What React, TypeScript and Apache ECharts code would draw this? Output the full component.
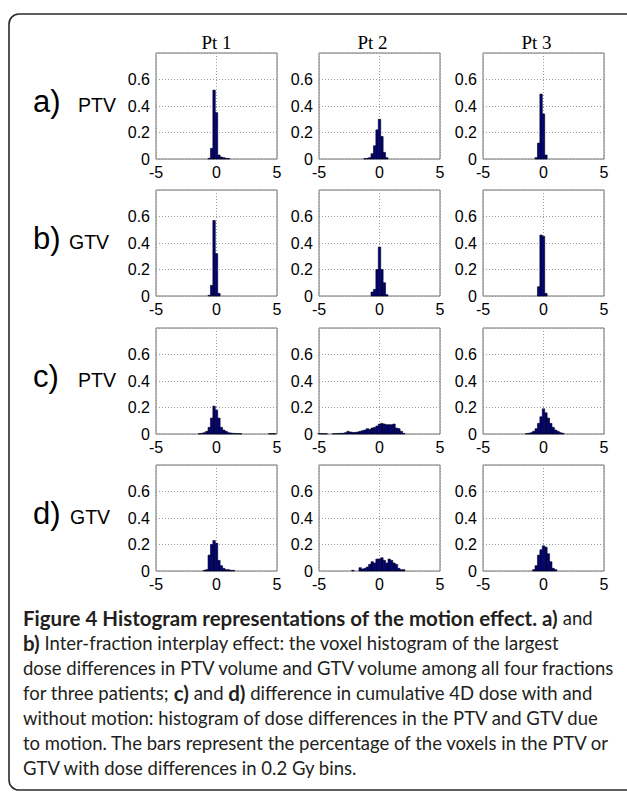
import React, { useEffect, useRef } from 'react';
import * as echarts from 'echarts';

const patients = ['Pt 1', 'Pt 2', 'Pt 3'];
const rowLetters = ['a)', 'b)', 'c)', 'd)'];
const rowVolumes = ['PTV', 'GTV', 'PTV', 'GTV'];
const yTickLabels = [0, 0.2, 0.4, 0.6];

// [bin centre (Gy), fraction of voxels]
const a1 = [[-0.6, 0.005], [-0.4, 0.08], [-0.2, 0.52], [0, 0.35], [0.2, 0.03], [0.4, 0.015], [0.6, 0.01], [0.8, 0.005], [1.0, 0.004]];
const a2 = [[-1.2, 0.003], [-1.0, 0.005], [-0.8, 0.01], [-0.6, 0.04], [-0.4, 0.1], [-0.2, 0.22], [0, 0.3], [0.2, 0.17], [0.4, 0.05], [0.6, 0.01]];
const a3 = [[-0.6, 0.01], [-0.4, 0.12], [-0.2, 0.49], [0, 0.34], [0.2, 0.03]];
const b1 = [[-0.6, 0.005], [-0.4, 0.08], [-0.2, 0.57], [0, 0.32], [0.2, 0.02]];
const b2 = [[-0.6, 0.03], [-0.4, 0.05], [-0.2, 0.2], [0, 0.37], [0.2, 0.2], [0.4, 0.1], [0.6, 0.01]];
const b3 = [[-0.4, 0.07], [-0.2, 0.46], [0, 0.45], [0.2, 0.02]];
const c1 = [[-1.4, 0.003], [-1.2, 0.005], [-1.0, 0.01], [-0.8, 0.02], [-0.6, 0.05], [-0.4, 0.12], [-0.2, 0.21], [0, 0.18], [0.2, 0.12], [0.4, 0.05], [0.6, 0.03], [0.8, 0.02], [1.0, 0.01], [1.2, 0.007], [1.4, 0.005], [1.6, 0.004], [1.8, 0.003], [2.0, 0.002], [4.4, 0.003], [4.6, 0.003], [4.8, 0.003]];
const c2 = [[-5.0, 0.003], [-4.8, 0.003], [-4.6, 0.002], [-4.4, 0.002], [-3.8, 0.002], [-3.6, 0.003], [-3.4, 0.004], [-3.2, 0.005], [-3.0, 0.005], [-2.8, 0.01], [-2.6, 0.02], [-2.4, 0.015], [-2.2, 0.012], [-2.0, 0.012], [-1.8, 0.015], [-1.6, 0.02], [-1.4, 0.025], [-1.2, 0.03], [-1.0, 0.04], [-0.8, 0.035], [-0.6, 0.045], [-0.4, 0.05], [-0.2, 0.06], [0, 0.075], [0.2, 0.08], [0.4, 0.075], [0.6, 0.07], [0.8, 0.07], [1.0, 0.07], [1.2, 0.075], [1.4, 0.045], [1.6, 0.04], [1.8, 0.02], [2.0, 0.005]];
const c3 = [[-1.4, 0.003], [-1.2, 0.005], [-1.0, 0.01], [-0.8, 0.02], [-0.6, 0.04], [-0.4, 0.08], [-0.2, 0.13], [0, 0.19], [0.2, 0.16], [0.4, 0.12], [0.6, 0.08], [0.8, 0.05], [1.0, 0.03], [1.2, 0.02], [1.4, 0.01], [1.6, 0.005]];
const d1 = [[-1.0, 0.005], [-0.8, 0.01], [-0.6, 0.12], [-0.4, 0.2], [-0.2, 0.23], [0, 0.21], [0.2, 0.08], [0.4, 0.04], [0.6, 0.02], [0.8, 0.01], [1.0, 0.01], [1.2, 0.005], [1.4, 0.005]];
const d2 = [[-2.2, 0.005], [-1.6, 0.025], [-1.4, 0.015], [-1.2, 0.02], [-1.0, 0.03], [-0.8, 0.05], [-0.6, 0.07], [-0.4, 0.06], [-0.2, 0.09], [0, 0.09], [0.2, 0.1], [0.4, 0.08], [0.6, 0.06], [0.8, 0.09], [1.0, 0.08], [1.2, 0.06], [1.4, 0.05], [1.6, 0.02], [1.8, 0.01], [2.0, 0.01]];
const d3 = [[-0.8, 0.01], [-0.6, 0.04], [-0.4, 0.12], [-0.2, 0.16], [0, 0.19], [0.2, 0.18], [0.4, 0.13], [0.6, 0.07], [0.8, 0.02], [1.0, 0.01]];

const panels = [a1, a2, a3, b1, b2, b3, c1, c2, c3, d1, d2, d3];
const binWidth = 0.2;

const captionLines = [
  '{b|Figure 4 Histogram representations of the motion effect. a)} and',
  '{b|b)} Inter-fraction interplay effect: the voxel histogram of the largest',
  'dose differences in PTV volume and GTV volume among all four fractions',
  'for three patients; {b|c)} and {b|d)} difference in cumulative 4D dose with and',
  'without motion: histogram of dose differences in the PTV and GTV due',
  'to motion. The bars represent the percentage of the voxels in the PTV or',
  'GTV with dose differences in 0.2 Gy bins.',
];

const colLeft = [156, 319, 483];
const colWidth = 121;
const rowTop = [53, 190, 328, 465];
const rowHeight = 106;
const volumeLeft = [78, 69, 78, 70];

export default function App() {
  const ref = useRef<HTMLDivElement>(null);
  useEffect(() => {
    if (!ref.current) return;
    const chart = echarts.init(ref.current, null, { renderer: 'svg' });
    const grids: any[] = [];
    const xAxes: any[] = [];
    const yAxes: any[] = [];
    const series: any[] = [];
    panels.forEach((data, i) => {
      const r = Math.floor(i / 3);
      const c = i % 3;
      grids.push({
        left: colLeft[c], top: rowTop[r], width: colWidth, height: rowHeight,
        show: true, borderColor: '#6e6e6e', borderWidth: 1, backgroundColor: '#fff',
      });
      xAxes.push({
        type: 'value', gridIndex: i, min: -5, max: 5, interval: 5,
        axisLine: { show: false }, axisTick: { show: false },
        axisLabel: { color: '#000', fontFamily: 'Liberation Sans', fontSize: 16, margin: 5 },
        splitLine: { show: true, lineStyle: { color: '#9a9a9a', type: [1, 2], width: 1 } },
      });
      yAxes.push({
        type: 'value', gridIndex: i, min: 0, max: 0.8, interval: 0.2,
        axisLine: { show: false }, axisTick: { show: false },
        axisLabel: {
          color: '#000', fontFamily: 'Liberation Sans', fontSize: 16, margin: 6,
          formatter: (v: number) => {
            const k = yTickLabels.find((t) => Math.abs(t - v) < 1e-6);
            return k === undefined ? '' : String(k);
          },
        },
        splitLine: { show: true, lineStyle: { color: '#9a9a9a', type: [1, 2], width: 1 } },
      });
      series.push({
        type: 'custom', xAxisIndex: i, yAxisIndex: i, data,
        renderItem: (_p: any, api: any) => {
          const x = api.value(0);
          const y = api.value(1);
          const p0 = api.coord([x - binWidth / 2, y]);
          const p1 = api.coord([x + binWidth / 2, 0]);
          return {
            type: 'rect',
            shape: { x: p0[0], y: p0[1], width: p1[0] - p0[0], height: p1[1] - p0[1] },
            style: { fill: '#00007c', stroke: '#00001a', lineWidth: 0.6 },
          };
        },
      });
    });
    const graphic: any[] = [
      {
        type: 'rect', shape: { x: 9, y: 14, width: 640, height: 776, r: 10 },
        style: { fill: 'none', stroke: '#2b2b2b', lineWidth: 1.6 }, z: 10,
      },
    ];
    patients.forEach((p, c) => {
      graphic.push({
        type: 'text', x: colLeft[c] + colWidth / 2 - (c === 0 ? 0 : 7), y: 42,
        style: { text: p, font: '19px "Liberation Serif"', fill: '#000', align: 'center', verticalAlign: 'middle' },
      });
    });
    rowLetters.forEach((l, r) => {
      const cy = rowTop[r] + rowHeight * 0.46;
      graphic.push({
        type: 'text', x: 33, y: cy,
        style: { text: l, font: '31px "Liberation Sans"', fill: '#000', align: 'left', verticalAlign: 'middle' },
      });
      graphic.push({
        type: 'text', x: volumeLeft[r], y: cy + 3,
        style: { text: rowVolumes[r], font: '19.5px "Liberation Sans"', fill: '#000', align: 'left', verticalAlign: 'middle' },
      });
    });
    captionLines.forEach((t, k) => {
      graphic.push({
        type: 'text', x: 23, y: 618 + k * 25,
        style: {
          text: t, fill: '#231f20', font: '18.5px Lato', verticalAlign: 'middle', align: 'left',
          rich: { b: { fontWeight: 'bold', fontFamily: 'Lato', fontSize: 20.5, fill: '#231f20' } },
        },
      });
    });
    chart.setOption({
      animation: false,
      backgroundColor: '#fff',
      grid: grids,
      xAxis: xAxes,
      yAxis: yAxes,
      series,
      graphic,
    });
    return () => chart.dispose();
  }, []);
  return <div ref={ref} style={{ position: 'absolute', left: 0, top: 0, width: 627, height: 793 }} />;
}
